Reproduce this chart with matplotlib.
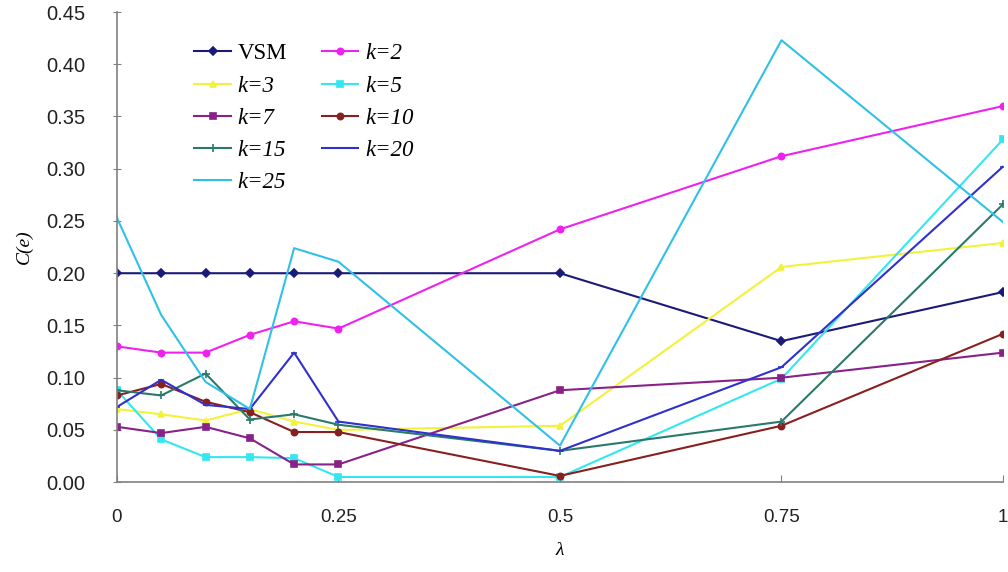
import matplotlib.pyplot as plt
import numpy as np

# lambda values (x axis)
lam = [0, 0.05, 0.1, 0.15, 0.2, 0.25, 0.5, 0.75, 1]

# C(e) per series
vsm = [0.200, 0.200, 0.200, 0.200, 0.200, 0.200, 0.200, 0.135, 0.182]
k2 = [0.130, 0.124, 0.124, 0.141, 0.154, 0.147, 0.242, 0.312, 0.360]
k3 = [0.070, 0.065, 0.059, 0.070, 0.058, 0.050, 0.054, 0.206, 0.229]
k5 = [0.088, 0.041, 0.024, 0.024, 0.023, 0.005, 0.005, 0.099, 0.328]
k7 = [0.053, 0.047, 0.053, 0.042, 0.017, 0.017, 0.088, 0.100, 0.124]
k10 = [0.083, 0.094, 0.077, 0.067, 0.048, 0.048, 0.006, 0.054, 0.142]
k15 = [0.088, 0.083, 0.104, 0.060, 0.065, 0.055, 0.030, 0.058, 0.266]
k20 = [0.072, 0.098, 0.074, 0.070, 0.124, 0.058, 0.030, 0.110, 0.302]
k25 = [0.253, 0.160, 0.096, 0.070, 0.224, 0.211, 0.035, 0.423, 0.249]

labels = ['VSM', 'k=2', 'k=3', 'k=5', 'k=7', 'k=10', 'k=15', 'k=20', 'k=25']
series = [vsm, k2, k3, k5, k7, k10, k15, k20, k25]
colors = ['#1a1a78', '#ee22ee', '#f2f23a', '#33e6f0', '#882288',
          '#882020', '#2a7a6a', '#3030cc', '#30c0e8']
markers = ['D', 'o', '^', 's', 's', 'o', '+', '_', None]

serif = ['Liberation Serif', 'DejaVu Serif']
narrow = ['Liberation Sans Narrow', 'Liberation Sans', 'DejaVu Sans']

fig = plt.figure(figsize=(10.08, 5.72), dpi=100)
ax = fig.add_axes([0.116, 0.157, 0.879, 0.822])

lines = []
for vals, lab, col, mk in zip(series, labels, colors, markers):
    ln, = ax.plot(lam, vals, color=col, linewidth=1.5, marker=mk,
                  markersize=4.5 if mk != '+' else 6, markeredgewidth=1.2,
                  label=lab)
    lines.append(ln)

ax.set_xlim(0, 1)
ax.set_ylim(0, 0.45)
ax.set_xticks([0, 0.25, 0.5, 0.75, 1])
ax.set_xticklabels(['0', '0.25', '0.5', '0.75', '1'])
ax.set_yticks(np.arange(0, 0.451, 0.05))
ax.set_yticklabels([f'{v:.2f}' for v in np.arange(0, 0.451, 0.05)])

for lbl in ax.get_xticklabels() + ax.get_yticklabels():
    lbl.set_family(narrow)
    lbl.set_fontsize(13.5)
    lbl.set_color('#222222')
for lbl in ax.get_yticklabels():
    lbl.set_fontsize(14.5)

ax.tick_params(axis='y', direction='inout', length=6, color='#808080', pad=20)
ax.tick_params(axis='x', direction='in', length=5, color='#808080', pad=19)

for s in ['top', 'right']:
    ax.spines[s].set_visible(False)
for s in ['left', 'bottom']:
    ax.spines[s].set_color('#808080')
    ax.spines[s].set_linewidth(1.2)

ax.set_xlabel('λ', family=serif, style='italic', fontsize=14, labelpad=12)
ax.set_ylabel('C(e)', family=serif, style='italic', fontsize=14, labelpad=9)

# legend: row order VSM, k=2 / k=3, k=5 / ...
order = [0, 2, 4, 6, 8, 1, 3, 5, 7]
leg = ax.legend([lines[i] for i in order], [labels[i] for i in order],
                ncol=2, frameon=False, loc='upper left',
                bbox_to_anchor=(0.064, 0.977), handlelength=1.6,
                handletextpad=0.3, columnspacing=1.5, labelspacing=0.48,
                prop={'family': serif, 'size': 16.5})
for t in leg.get_texts():
    if t.get_text().startswith('k'):
        t.set_style('italic')

fig.savefig('out.png', dpi=100)
